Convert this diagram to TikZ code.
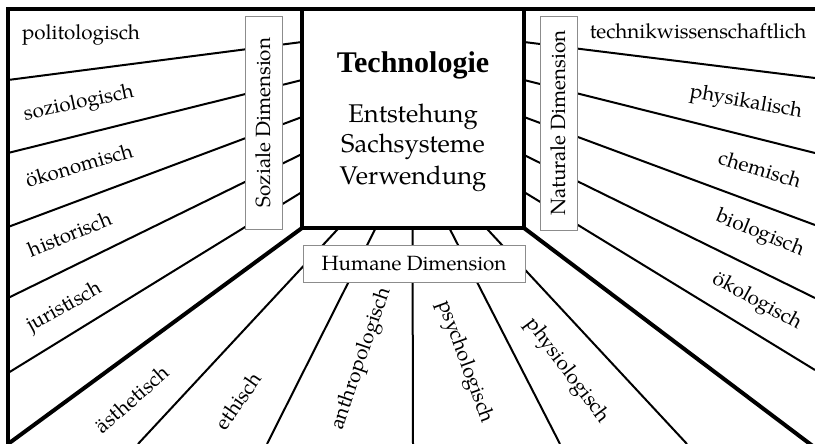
\documentclass[tikz,border=0pt]{standalone}
\usepackage{fontspec}
\setmainfont{TeX Gyre Pagella}
\newfontfamily\headfont{Liberation Serif}[BoldFont={Liberation Serif Bold}]
\begin{document}
\begin{tikzpicture}[x=1pt,y=-1pt,
  heavy/.style={line width=4pt, line join=miter},
  fine/.style={line width=2pt},
  dimbox/.style={draw=black!45, line width=0.9pt, fill=white, inner sep=0pt,
    font=\fontsize{20.6}{24}\selectfont},
  field/.style={inner sep=0pt, anchor=center, font=\fontsize{20.6}{24}\selectfont},
  core/.style={inner sep=0pt, anchor=base, font=\fontsize{25.6}{30}\selectfont}]
\useasboundingbox (0,0) rectangle (815,444);

% corners of the room
\coordinate (TL) at (8,9);
\coordinate (TR) at (822,9);
\coordinate (BL) at (8,452);
\coordinate (WTL) at (302,9);
\coordinate (WBL) at (302,228);
\coordinate (WBR) at (524,228);
\coordinate (WTR) at (524,9);
\coordinate (FL) at (8,444);
\coordinate (FR) at (822,453);

% left wall rays
\foreach \i/\a/\b in {1/42/80, 2/80/153, 3/117/227, 4/154/298, 5/192/373}{
  \coordinate (la\i) at (302,\a);
  \coordinate (lb\i) at (8,\b);
}
% right wall rays
\foreach \i/\a/\b in {1/42/78, 2/80/153, 3/117/225, 4/155/298, 5/192/370}{
  \coordinate (ra\i) at (524,\a);
  \coordinate (rb\i) at (815,\b);
}
% floor rays
\foreach \i/\a/\b in {1/338.8/138, 2/375.7/267, 3/412.5/413, 4/449.3/560, 5/486.2/687}{
  \coordinate (fa\i) at (\a,228);
  \coordinate (fb\i) at (\b,444);
}

\foreach \i in {1,...,5}{
  \draw[fine] (la\i) -- (lb\i);
  \draw[fine] (ra\i) -- (rb\i);
  \draw[fine] (fa\i) -- (fb\i);
}

% outer frame, back wall and floor edges
\draw[heavy] (BL) -- (TL) -- (TR);
\draw[heavy] (WTL) -- (WBL) -- (WBR) -- (WTR);
\draw[heavy] (WBL) -- (FL);
\draw[heavy] (WBR) -- (FR);

% back wall text
\node[inner sep=0pt, anchor=base, font=\headfont\bfseries\fontsize{30}{34}\selectfont]
  (title) at (413,73) {Technologie};
\node[core] (c1) at (413,122) {Entstehung};
\node[core] (c2) at (413,153) {Sachsysteme};
\node[core] (c3) at (413,184) {Verwendung};

% dimension labels
\node[dimbox, rotate=90, minimum width=213pt, minimum height=37pt] (soz) at (263.5,122.5) {Soziale Dimension};
\node[dimbox, rotate=90, minimum width=214pt, minimum height=37pt] (nat) at (558.5,123) {Naturale Dimension};
\node[dimbox, minimum width=222pt, minimum height=37pt] (hum) at (414,263.5) {Humane Dimension};

% social disciplines
\node[field] (pol) at (81,35) {politologisch};
\node[field, rotate=12] (soziol) at (79,104) {soziologisch};
\node[field, rotate=16] (oek) at (79,165) {ökonomisch};
\node[field, rotate=22] (hist) at (70,234) {historisch};
\node[field, rotate=29] (jur) at (65,308) {juristisch};

% natural disciplines
\node[field] (tech) at (698,31) {technikwissenschaftlich};
\node[field, rotate=-10] (phys) at (746,103) {physikalisch};
\node[field, rotate=-17] (chem) at (760,169) {chemisch};
\node[field, rotate=-22] (bio) at (760,234) {biologisch};
\node[field, rotate=-29] (oeko) at (757,302) {ökologisch};

% human disciplines
\node[field, rotate=41] (aes) at (132,399) {ästhetisch};
\node[field, rotate=55] (eth) at (238,401) {ethisch};
\node[field, rotate=71] (anth) at (362,359) {anthropologisch};
\node[field, rotate=-70] (psy) at (465,362) {psychologisch};
\node[field, rotate=-53] (physio) at (567,371) {physiologisch};
\end{tikzpicture}
\end{document}
